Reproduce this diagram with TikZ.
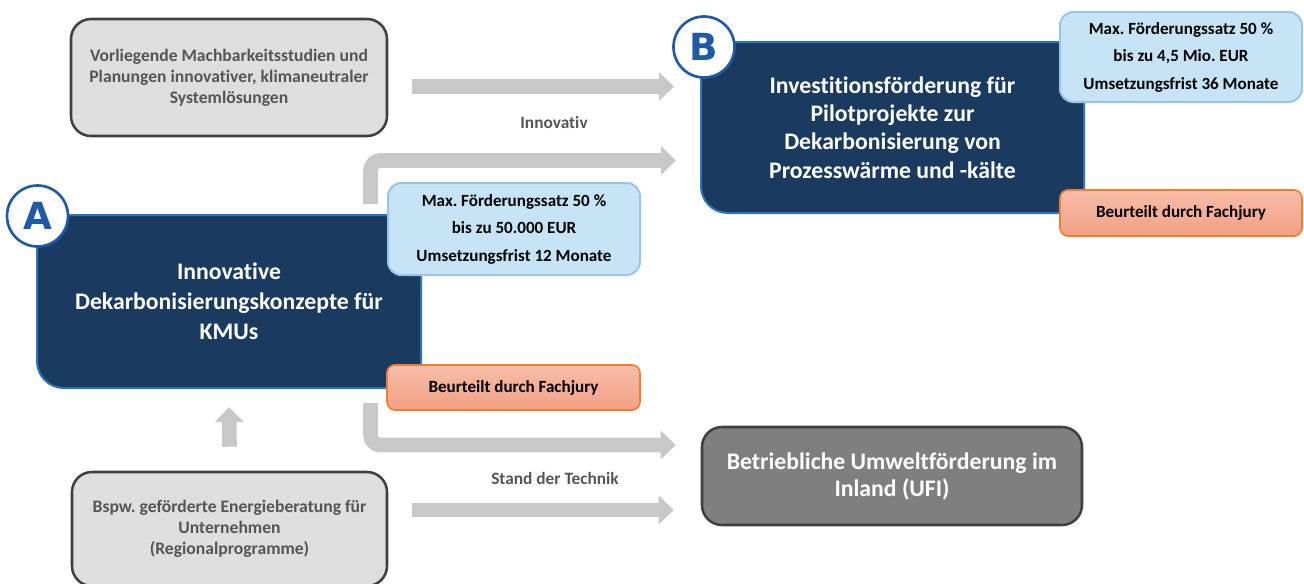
\documentclass[tikz,border=0pt]{standalone}
\usepackage{fontspec}
\setmainfont{Carlito}[Ligatures=NoCommon]
\newfontfamily\letterfont{DejaVu Sans}
\usepackage{tikz}
\usetikzlibrary{calc}
\usetikzlibrary{arrows.meta}
\frenchspacing

\definecolor{navy}{HTML}{1A3B5F}
\definecolor{navyline}{HTML}{2E75B6}
\definecolor{ringblue}{HTML}{1F5AA6}
\definecolor{boxgray}{HTML}{DEDEDE}
\definecolor{linegray}{HTML}{404040}
\definecolor{textgray}{HTML}{555555}
\definecolor{arrowgray}{HTML}{C8C8C8}
\definecolor{ufigray}{HTML}{7F7F7F}
\definecolor{infoblue}{HTML}{C6E4F6}
\definecolor{infoline}{HTML}{9DC3E6}
\definecolor{jurytop}{HTML}{F7BDA9}
\definecolor{jurybot}{HTML}{F2A083}
\definecolor{juryline}{HTML}{ED7D31}

\tikzset{
	inputbox/.style={draw=linegray, line width=1.9pt, fill=boxgray, rounded corners=15pt, text=textgray, align=center, font=\fontsize{13.2}{15.75}\selectfont\bfseries, minimum width=237pt, minimum height=87.75pt, inner sep=0pt},
	programbox/.style={draw=navyline, line width=1.5pt, fill=navy, rounded corners=20pt, text=white, align=center, inner sep=0pt},
	ufibox/.style={draw=linegray, line width=1.9pt, fill=ufigray, rounded corners=15pt, text=white, align=center, font=\fontsize{17.8}{20.25}\selectfont\bfseries, minimum width=285pt, minimum height=73.5pt, inner sep=0pt},
	letterring/.style={circle, draw=ringblue, line width=2pt, fill=white, text=ringblue, minimum size=45.75pt, inner sep=0pt, font=\letterfont\bfseries\fontsize{28}{28}\selectfont},
	infobox/.style={draw=infoline, line width=1.5pt, fill=infoblue, rounded corners=10pt, align=center, font=\fontsize{12.8}{20.6}\selectfont\bfseries, inner sep=0pt},
	jurybox/.style={draw=juryline, line width=1.2pt, top color=jurytop, bottom color=jurybot, rounded corners=6pt, font=\fontsize{12.8}{15}\selectfont\bfseries, inner sep=0pt},
	flowlabel/.style={text=textgray, font=\fontsize{13}{15}\selectfont\bfseries},
	flow/.style={draw=arrowgray, line width=11pt, -{Triangle[width=21pt, length=11.25pt]}}
}

\begin{document}
\begin{tikzpicture}[x=0.75pt, y=-0.75pt]
	%\draw [help lines, step=50] (0,0) grid (1304,583);
	\useasboundingbox (0,0) rectangle (1304,583);

	\node (vorl) [inputbox] at (229,77.5) {Vorliegende Machbarkeitsstudien und\\Planungen innovativer, klimaneutraler\\Systemlösungen};
	\node (bspw) [inputbox, minimum width=236.25pt, minimum height=85.5pt] at (229.5,529) {Bspw. geförderte Energieberatung für\\Unternehmen\\(Regionalprogramme)};

	\node (konzept) [programbox, minimum width=288pt, minimum height=129.75pt, font=\fontsize{17.8}{22.5}\selectfont\bfseries] at (229,301.5) {Innovative\\Dekarbonisierungskonzepte für\\KMUs};
	\node (invest) [programbox, minimum width=287.25pt, minimum height=128.25pt, font=\fontsize{17.8}{21.25}\selectfont\bfseries] at (892.5,127.5) {Investitionsförderung für\\Pilotprojekte zur\\Dekarbonisierung von\\Prozesswärme und -kälte};
	\node (ufi) [ufibox] at (892,476) {Betriebliche Umweltförderung im\\Inland (UFI)};

	\node (ringA) [letterring] at (37.5,216) {A};
	\node (ringB) [letterring] at (704,47) {B};

	\node (infoA) [infobox, minimum width=189pt, minimum height=69pt] at (514,229) {Max. Förderungssatz 50 \%\\bis zu 50.000 EUR\\Umsetzungsfrist 12 Monate};
	\node (infoB) [infobox, minimum width=181.5pt, minimum height=67.5pt] at (1181,57) {Max. Förderungssatz 50 \%\\bis zu 4,5 Mio. EUR\\Umsetzungsfrist 36 Monate};
	\node (juryA) [jurybox, minimum width=189.75pt, minimum height=33.75pt] at (513.5,387.5) {Beurteilt durch Fachjury};
	\node (juryB) [jurybox, minimum width=181.5pt, minimum height=34.5pt] at (1181,213) {Beurteilt durch Fachjury};

	\node (innov) [flowlabel] at (554,122) {Innovativ};
	\node (stand) [flowlabel] at (555,478) {Stand der Technik};

	% arrows
	\coordinate (innovin) at ([shift={(24,9)}]vorl.east);
	\coordinate (standin) at ([shift={(24,-19)}]bspw.east);
	\draw [flow] (innovin) -- ([xshift=-19.5pt]invest.west |- innovin);
	\draw [flow, rounded corners=7.5pt] ([xshift=-38.6pt, yshift=7.5pt]konzept.north east) |- ([shift={(-24,33)}]invest.west);
	\draw [flow, rounded corners=7.5pt] ([xshift=-38.6pt, yshift=-10.5pt]konzept.south east) |- ([shift={(-25,-31)}]ufi.west);
	\draw [flow] (standin) -- ([xshift=-20.25pt]ufi.west |- standin);
	\draw [flow] ([yshift=18pt]bspw.north) -- ([yshift=-13.5pt]konzept.south);

\end{tikzpicture}
\end{document}
